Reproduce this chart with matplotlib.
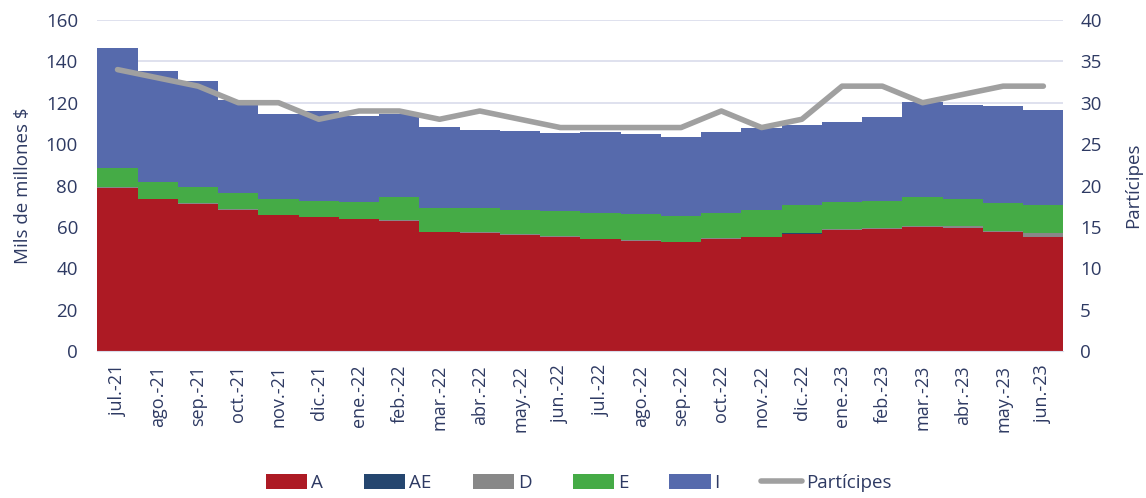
import matplotlib.pyplot as plt
import numpy as np
from matplotlib.lines import Line2D
from matplotlib.patches import Patch

plt.rcParams['font.family'] = ['Open Sans', 'DejaVu Sans']

months = ['jul.-21', 'ago.-21', 'sep.-21', 'oct.-21', 'nov.-21', 'dic.-21',
          'ene.-22', 'feb.-22', 'mar.-22', 'abr.-22', 'may.-22', 'jun.-22',
          'jul.-22', 'ago.-22', 'sep.-22', 'oct.-22', 'nov.-22', 'dic.-22',
          'ene.-23', 'feb.-23', 'mar.-23', 'abr.-23', 'may.-23', 'jun.-23']

# Mils de millones $
serie_a = [78.9, 73.4, 71.2, 68.3, 65.7, 64.6, 63.6, 63.0, 57.3, 57.0, 56.2, 55.1,
           54.0, 53.3, 52.5, 54.1, 54.9, 56.8, 58.5, 58.9, 60.0, 59.6, 57.3, 55.2]
serie_ae = [0.05] * 24
serie_d = [0.2, 0.2, 0.2, 0.2, 0.2, 0.2, 0.2, 0.2, 0.3, 0.3, 0.3, 0.3,
           0.3, 0.3, 0.3, 0.3, 0.3, 0.3, 0.4, 0.5, 0.5, 0.6, 0.8, 2.0]
serie_e = [9.1, 7.9, 7.8, 7.7, 7.6, 7.9, 8.4, 11.3, 11.3, 12.0, 11.8, 12.2,
           12.4, 12.5, 12.3, 12.5, 13.1, 13.2, 13.1, 13.3, 13.7, 13.3, 13.6, 13.1]
serie_i = [58.4, 53.9, 51.4, 45.0, 41.2, 43.3, 41.2, 40.2, 39.5, 37.4, 38.0, 37.5,
           39.0, 38.9, 38.3, 39.0, 39.2, 38.8, 38.8, 40.4, 46.0, 45.4, 46.7, 46.3]
participes = [34, 33, 32, 30, 30, 28, 29, 29, 28, 29, 28, 27,
              27, 27, 27, 29, 27, 28, 32, 32, 30, 31, 32, 32]

names = ['A', 'AE', 'D', 'E', 'I']
colors = ['#AD1A24', '#25466F', '#888888', '#45AB46', '#566AAC']
text_color = '#2E3A63'

fig = plt.figure(figsize=(11.46, 4.98), dpi=100)
ax = fig.add_axes([0.085, 0.295, 0.843, 0.665])
ax2 = ax.twinx()

x = np.arange(len(months))
bottom = np.zeros(len(months))
for vals, name, c in zip([serie_a, serie_ae, serie_d, serie_e, serie_i], names, colors):
    ax.bar(x, vals, width=1.0, bottom=bottom, color=c, label=name, zorder=2)
    bottom += np.array(vals)

ax2.plot(x, participes, color='#A0A0A0', linewidth=4, solid_capstyle='round', zorder=3)

ax.set_xlim(-0.5, len(months) - 0.5)
ax.set_ylim(0, 160)
ax.set_yticks(range(0, 161, 20))
ax2.set_ylim(0, 40)
ax2.set_yticks(range(0, 41, 5))

ax.grid(axis='y', color='#D9DCEB', linewidth=1.2, zorder=0)
ax.set_axisbelow(True)

for a in (ax, ax2):
    for s in a.spines.values():
        s.set_visible(False)
ax.spines['bottom'].set_visible(True)
ax.spines['bottom'].set_color('#D9DCEB')

ax.set_xticks(x)
ax.set_xticklabels(months, rotation=90, fontsize=13, color=text_color)
ax.tick_params(axis='x', length=0, pad=10)
ax.tick_params(axis='y', length=0, labelsize=13.5, labelcolor=text_color, pad=14)
ax2.tick_params(axis='y', length=0, labelsize=13.5, labelcolor=text_color, pad=12)

ax.set_ylabel('Mils de millones $', fontsize=13.5, color=text_color, labelpad=10)
ax2.set_ylabel('Partícipes', fontsize=13.5, color=text_color, labelpad=16)

handles = [Patch(facecolor=c, label=n) for n, c in zip(names, colors)]
handles.append(Line2D([0], [0], color='#A0A0A0', linewidth=4, solid_capstyle='round', label='Partícipes'))
fig.legend(handles=handles, loc='lower center', bbox_to_anchor=(0.505, -0.022), ncol=6,
           frameon=False, fontsize=13.5, labelcolor=text_color, handlelength=2.2,
           handleheight=0.9, handletextpad=0.2, columnspacing=2.2)

plt.savefig('out.png', dpi=100)
